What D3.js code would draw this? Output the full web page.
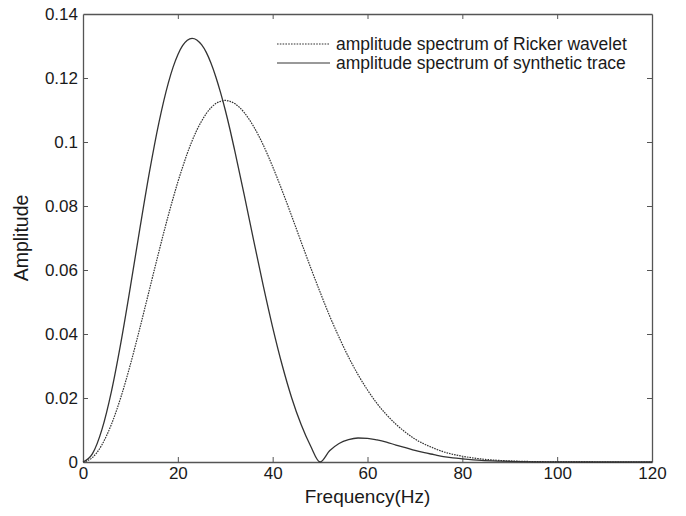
<!DOCTYPE html>
<html>
<head>
<meta charset="utf-8">
<script src="https://cdn.jsdelivr.net/npm/d3@7"></script>
<style>
  body { margin: 0; background: #fff; }
  svg { display: block; font-family: Arial, "Liberation Sans", sans-serif; }
</style>
</head>
<body>
<svg id="chart" width="686" height="516"></svg>
<script>
// Frequencies (Hz) sampled along the curves
const freq = [0,2,4,6,8,10,12,14,16,18,19,20,21,22,23,24,25,26,27,28,29,30,31,32,34,36,38,40,42,44,46,48,50,52,54,56,58,60,62,64,66,68,70,72,74,76,78,80,84,88,92,96,100,110,120];
// Amplitude spectrum of Ricker wavelet (dotted)
const ricker = [0,0.0014,0.0054,0.0118,0.0203,0.0305,0.0419,0.0538,0.0657,0.0771,0.0824,0.0875,0.0921,0.0965,0.1003,0.1037,0.1065,0.1089,0.1107,0.1120,0.1127,0.1130,0.1127,0.1120,0.1092,0.1048,0.0991,0.0923,0.0848,0.0769,0.0688,0.0608,0.0531,0.0457,0.0390,0.0328,0.0273,0.0225,0.0183,0.0148,0.0118,0.0093,0.0072,0.0056,0.0043,0.0032,0.0024,0.0018,0.00095,0.00048,0.00024,0.00011,0.00005,0.000004,0];
// Amplitude spectrum of synthetic trace (solid)
const synthetic = [0,0.0026,0.0102,0.0221,0.0374,0.0548,0.0730,0.0905,0.1060,0.1185,0.1234,0.1273,0.1301,0.1318,0.1324,0.1319,0.1304,0.1280,0.1246,0.1204,0.1155,0.1100,0.1039,0.0973,0.0835,0.0692,0.0552,0.0421,0.0303,0.0201,0.0117,0.0050,0,0.0035,0.0058,0.0070,0.0075,0.0074,0.0069,0.0062,0.0053,0.0045,0.0036,0.0029,0.0023,0.0017,0.0013,0.0010,0.0005,0.00025,0.0001,0.00004,0.00002,0,0];
const xTicks = [0,20,40,60,80,100,120];
const yTicks = [0,0.02,0.04,0.06,0.08,0.1,0.12,0.14];
const yTickLabels = ["0","0.02","0.04","0.06","0.08","0.1","0.12","0.14"];
const legendLabels = ["amplitude spectrum of Ricker wavelet","amplitude spectrum of synthetic trace"];

const svg = d3.select("#chart");
const L = 83, R = 652, T = 14, B = 462;
const x = d3.scaleLinear().domain([0,120]).range([L,R]);
const y = d3.scaleLinear().domain([0,0.14]).range([B,T]);
const axisColor = "#555";
const textColor = "#1a1a1a";

// Axes with inward ticks on all four sides
const gB = svg.append("g").attr("transform",`translate(0,${B})`)
  .call(d3.axisBottom(x).tickValues(xTicks).tickSizeInner(-5).tickSizeOuter(0).tickPadding(5).tickFormat(d3.format("d")));
const gT = svg.append("g").attr("transform",`translate(0,${T})`)
  .call(d3.axisTop(x).tickValues(xTicks).tickSizeInner(-5).tickSizeOuter(0).tickFormat(""));
const gL = svg.append("g").attr("transform",`translate(${L},0)`)
  .call(d3.axisLeft(y).tickValues(yTicks).tickSizeInner(-5).tickSizeOuter(0).tickPadding(5).tickFormat((d,i)=>yTickLabels[i]));
const gR = svg.append("g").attr("transform",`translate(${R},0)`)
  .call(d3.axisRight(y).tickValues(yTicks).tickSizeInner(-5).tickSizeOuter(0).tickFormat(""));
[gB,gT,gL,gR].forEach(g=>{
  g.selectAll(".domain").attr("stroke",axisColor).attr("stroke-width",1.3);
  g.selectAll(".tick line").attr("stroke",axisColor).attr("stroke-width",1);
  g.selectAll(".tick text").attr("fill",textColor).style("font-size","17px").style("font-family","Arial, 'Liberation Sans', sans-serif");
});
// hide end ticks coinciding with box edges
gB.selectAll(".tick line").filter(d=>d===0||d===120).remove();
gT.selectAll(".tick line").filter(d=>d===0||d===120).remove();
gL.selectAll(".tick line").filter(d=>d===0||d===0.14).remove();
gR.selectAll(".tick line").filter(d=>d===0||d===0.14).remove();

// Curves
const line = d3.line().x((d,i)=>x(freq[i])).y(d=>y(d)).curve(d3.curveMonotoneX);
svg.append("path").datum(ricker).attr("d",line)
  .attr("fill","none").attr("stroke","#333").attr("stroke-width",1.2).attr("stroke-dasharray","1.6,1");
svg.append("path").datum(synthetic).attr("d",line)
  .attr("fill","none").attr("stroke","#333").attr("stroke-width",1.3);

// Legend
const legY = [44,63];
legendLabels.forEach((t,i)=>{
  svg.append("line").attr("x1",277).attr("x2",330).attr("y1",legY[i]).attr("y2",legY[i])
    .attr("stroke", i===0 ? "#333" : "#777").attr("stroke-width", i===0 ? 1.1 : 1.3)
    .attr("stroke-dasharray", i===0 ? "1.6,1.2" : null);
  svg.append("text").attr("x",336).attr("y",legY[i]).attr("dy","0.35em")
    .attr("fill",textColor).style("font-size","17.5px").text(t);
});

// Axis titles
svg.append("text").attr("x",(L+R)/2).attr("y",503).attr("text-anchor","middle")
  .attr("fill",textColor).style("font-size","19px").text("Frequency(Hz)");
svg.append("text").attr("transform",`translate(28,${(T+B)/2}) rotate(-90)`).attr("text-anchor","middle")
  .attr("fill",textColor).style("font-size","19.5px").text("Amplitude");
</script>
</body>
</html>
